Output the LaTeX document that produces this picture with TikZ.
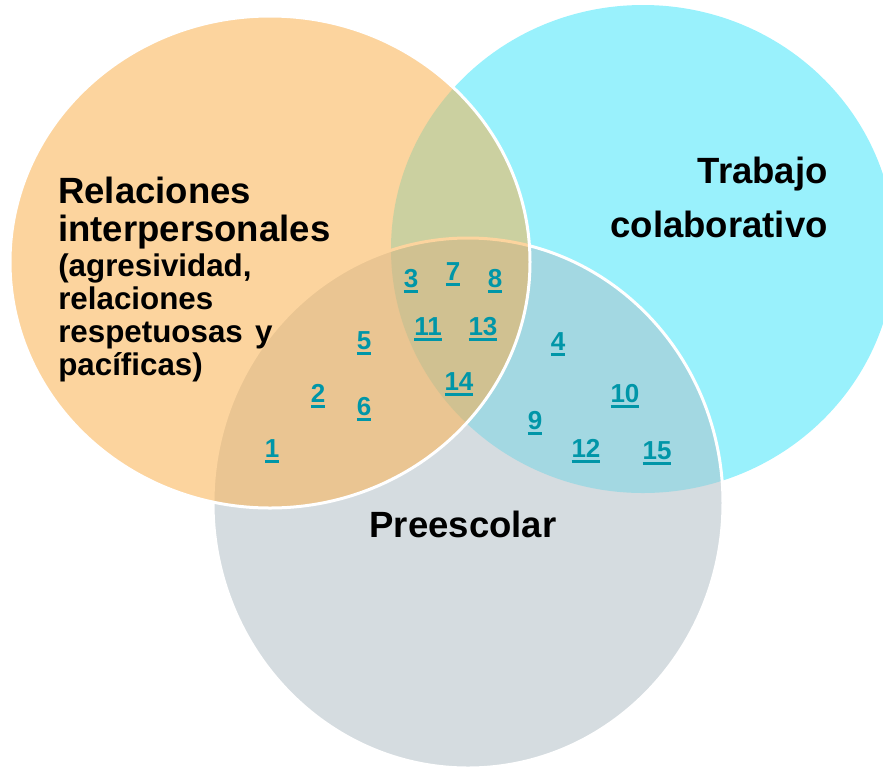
\documentclass[tikz,border=0pt]{standalone}
\usepackage{fontspec}
\setmainfont{Liberation Sans}

\definecolor{peach}{RGB}{252,212,158}
\definecolor{aqua}{RGB}{153,241,252}
\definecolor{mist}{RGB}{213,220,224}
\definecolor{peachaqua}{RGB}{203,208,160}
\definecolor{peachmist}{RGB}{234,197,146}
\definecolor{aquamist}{RGB}{163,216,226}
\definecolor{allthree}{RGB}{208,193,145}
\definecolor{linkteal}{RGB}{0,150,168}

\newcommand{\linknum}[1]{\setbox0\hbox{#1}\rlap{\rule[-4.6pt]{\wd0}{2.4pt}}\box0}

\tikzset{
    setlabel/.style={inner sep=0pt, font=\fontsize{27.4}{28.5}\selectfont\bfseries},
    numlink/.style={anchor=base, inner sep=0pt, text=linkteal, font=\fontsize{19.5}{22}\selectfont\bfseries},
    rim/.style={draw=white, line width=2.25pt},
    % sizes of the three sets, in pt (1 px = 0.75pt)
    relset/.style={x radius=195pt, y radius=184.5pt},
    trabset/.style={x radius=189pt, y radius=183pt},
    preset/.style={x radius=191.25pt, y radius=198.75pt}
}

\begin{document}
\begin{tikzpicture}[x=0.75pt,y=0.75pt,yscale=-1,xscale=1]
        \useasboundingbox (0,0) rectangle (883,769);
        \coordinate (relc) at (270,262);
        \coordinate (trabc) at (643,249);
        \coordinate (prec) at (468,503);

        %Shape: Ellipse (Trabajo colaborativo)
        \fill [aqua] (trabc) ellipse [trabset];
        %Shape: Ellipse (Preescolar)
        \fill [mist] (prec) ellipse [preset];
        \begin{scope}
            \clip (trabc) ellipse [trabset];
            \fill [aquamist] (prec) ellipse [preset];
        \end{scope}
        \draw [rim] (prec) ellipse [preset];

        %Shape: Ellipse (Relaciones interpersonales)
        \fill [peach] (relc) ellipse [relset];
        \begin{scope}
            \clip (relc) ellipse [relset];
            \fill [peachaqua] (trabc) ellipse [trabset];
            \fill [peachmist] (prec) ellipse [preset];
            \clip (trabc) ellipse [trabset];
            \fill [allthree] (prec) ellipse [preset];
        \end{scope}
        \begin{scope}
            \clip (relc) ellipse [relset];
            \draw [peach, line width=2.25pt] (prec) ellipse [preset];
        \end{scope}
        \draw [rim] (relc) ellipse [relset];

        % Text Node
        \node [setlabel, anchor=base west, text width=250pt, align=left] (rel) at (58,203)
            {Relaciones\\interpersonales\par\vspace{2.2pt}
             {\fontsize{23.5}{24.75}\selectfont (agresividad,\\relaciones\\respetuosas y\\pacíficas)\par}};
        % Text Node
        \node [setlabel, anchor=base east, align=right] (trab) at (828,237) {Trabajo\\[12pt]colaborativo};
        % Text Node
        \node [setlabel, anchor=base] (pre) at (463,537) {Preescolar};

        % Text Node
        \foreach \n/\x/\y in {1/272/457, 2/318/402, 3/411/287, 4/558/350, 5/364/349,
                              6/364/415, 7/453/280, 8/495/287, 9/535/429, 10/625/402,
                              11/428/335, 12/586/457, 13/483/335, 14/459/390, 15/657/459}
            \node [numlink] (n\n) at (\x,\y) {\linknum{\n}};
\end{tikzpicture}
\end{document}
